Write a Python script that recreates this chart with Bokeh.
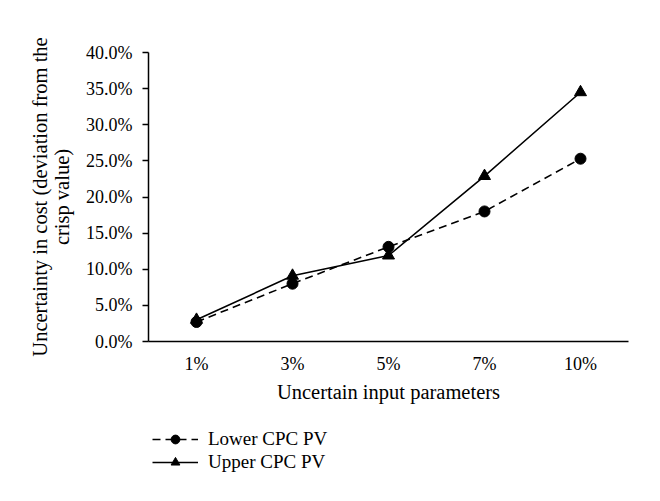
from bokeh.plotting import figure
from bokeh.layouts import column
from bokeh.models import Legend, LegendItem, NumeralTickFormatter, FixedTicker
from bokeh.embed import file_html
from bokeh.resources import INLINE

categories = ["1%", "3%", "5%", "7%", "10%"]
lower_cpc = [0.027, 0.080, 0.131, 0.180, 0.253]
upper_cpc = [0.030, 0.091, 0.119, 0.229, 0.345]
y_ticks = [0.0, 0.05, 0.10, 0.15, 0.20, 0.25, 0.30, 0.35, 0.40]

FONT = "Liberation Serif"


def draw_series(fig):
    lo = [fig.line(categories, lower_cpc, line_color="black", line_width=1.6, line_dash="8 5"),
          fig.scatter(categories, lower_cpc, marker="circle", size=11, color="black")]
    up = [fig.line(categories, upper_cpc, line_color="black", line_width=1.6),
          fig.scatter(categories, upper_cpc, marker="triangle", size=12, color="black")]
    return lo, up


p = figure(x_range=categories, y_range=(0, 0.40), frame_width=480, frame_height=289,
           output_backend="svg", toolbar_location=None,
           min_border_left=148, min_border_right=24, min_border_top=52, min_border_bottom=80)
p.outline_line_color = None
p.grid.grid_line_color = None
p.x_range.range_padding = 0
draw_series(p)

p.yaxis.ticker = FixedTicker(ticks=y_ticks)
p.yaxis.formatter = NumeralTickFormatter(format="0.0%")
p.yaxis.minor_tick_line_color = None
p.yaxis.major_tick_out = 6
p.yaxis.major_tick_in = 0
p.xaxis.major_tick_line_color = None
p.axis.axis_line_width = 1.5
p.axis.axis_line_color = "black"
p.axis.major_tick_line_width = 1.5
p.axis.major_label_text_font = FONT
p.axis.major_label_text_font_size = "18px"
p.axis.major_label_text_color = "black"
p.axis.axis_label_text_font = FONT
p.axis.axis_label_text_font_size = "20.5px"
p.axis.axis_label_text_font_style = "normal"
p.axis.axis_label_text_color = "black"
p.axis.axis_label_text_line_height = 1.0
p.xaxis.axis_label = "Uncertain input parameters"
p.yaxis.axis_label = "Uncertainty in cost (deviation from the\ncrisp value)"
p.xaxis.major_label_standoff = 6
p.yaxis.major_label_standoff = 10
p.xaxis.axis_label_standoff = 4
p.yaxis.axis_label_standoff = 10

# legend sits in its own strip under the chart (series drawn out of view)
lg = figure(x_range=categories, y_range=(1, 2), frame_width=652, frame_height=68,
            output_backend="svg", toolbar_location=None,
            min_border=0, outline_line_color=None)
lg.axis.visible = False
lg.grid.grid_line_color = None
lo_r, up_r = draw_series(lg)

legend = Legend(items=[
    LegendItem(label="Lower CPC PV", renderers=lo_r),
    LegendItem(label="Upper CPC PV", renderers=up_r),
], location=(152, 16), orientation="vertical")
legend.border_line_color = None
legend.background_fill_alpha = 0
legend.label_text_font = FONT
legend.label_text_font_size = "19px"
legend.label_text_color = "black"
legend.glyph_width = 46
legend.glyph_height = 22
legend.spacing = 1
legend.padding = 0
legend.margin = 0
legend.label_standoff = 10
legend.label_height = 22
lg.add_layout(legend)

open("out.html", "w").write(file_html(column(p, lg, spacing=0), INLINE))
